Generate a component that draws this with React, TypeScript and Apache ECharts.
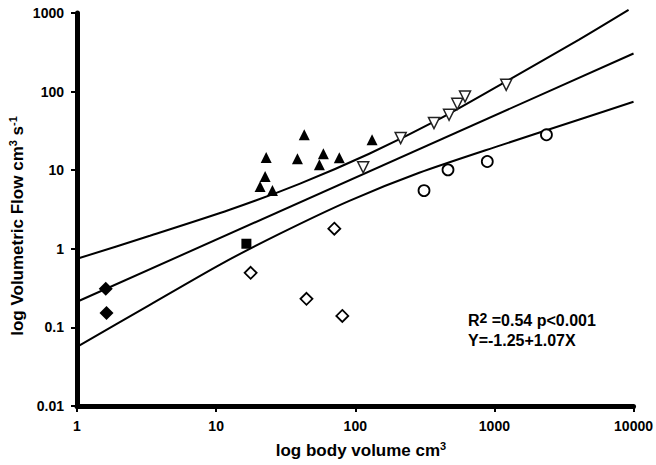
import React, { useEffect, useRef } from "react";
import * as echarts from "echarts";

// Tick labels
const xTickLabels = ["1", "10", "100", "1000", "10000"];
const yTickLabels = ["0.01", "0.1", "1", "10", "100", "1000"];

// Data groups [body volume cm3, volumetric flow cm3/s]
const filledDiamonds = [
  [1.61, 0.31],
  [1.63, 0.153],
];
const filledSquares = [[16.5, 1.16]];
const openDiamonds = [
  [17.7, 0.495],
  [44.6, 0.231],
  [70.7, 1.8],
  [80.7, 0.14],
];
const filledTriangles = [
  [20.7, 6.2],
  [22.5, 8.3],
  [22.9, 14.5],
  [25.4, 5.5],
  [38.4, 14.0],
  [43, 28.2],
  [55.2, 11.7],
  [59, 16.2],
  [76.8, 14.4],
  [132, 24.4],
];
const openDownTriangles = [
  [114, 10.9],
  [212, 25.6],
  [368, 39.8],
  [472, 50.7],
  [541, 70],
  [615, 86.6],
  [1216, 122],
];
const openCircles = [
  [312, 5.5],
  [464, 10.1],
  [889, 12.9],
  [2366, 28.2],
];

// Regression line and confidence band
const fitLine = [
  [1, 0.212],
  [10000, 305],
];
const upperBand = [
  [1, 0.746],
  [3.34, 1.463],
  [12.5, 3.135],
  [39.7, 6.71],
  [126, 16.2],
  [400, 44.5],
  [1271, 141],
  [4034, 456],
  [9210, 1098],
];
const lowerBand = [
  [1, 0.0566],
  [3.34, 0.194],
  [10.6, 0.626],
  [28.5, 1.55],
  [90.6, 4.08],
  [288, 9.27],
  [1077, 20.4],
  [4034, 43.8],
  [10000, 74.2],
];

const FONT = "Liberation Sans, Arial, sans-serif";

function findLabel(labels: string[], v: number) {
  const hit = labels.find(
    (l) => Math.abs(Math.log10(Number(l)) - Math.log10(v)) < 1e-6
  );
  return hit ?? "";
}

export default function App() {
  const ref = useRef<HTMLDivElement>(null);
  useEffect(() => {
    if (!ref.current) return;
    const chart = echarts.init(ref.current, undefined, { renderer: "svg" });
    const lineSeries = (data: number[][]) => ({
      type: "line",
      data,
      symbol: "none",
      smooth: 0.25,
      clip: false,
      lineStyle: { color: "#000", width: 2 },
      silent: true,
      z: 2,
    });
    const scatter = (
      data: number[][],
      symbol: string,
      size: number,
      filled: boolean,
      extra: any = {}
    ) => ({
      type: "scatter",
      data,
      symbol,
      symbolSize: size,
      itemStyle: filled
        ? { color: "#000", borderColor: "#000", borderWidth: 0, opacity: 1 }
        : { color: "#fff", borderColor: "#000", borderWidth: 1.8, opacity: 1 },
      z: 3,
      ...extra,
    });
    chart.setOption({
      animation: false,
      backgroundColor: "#fff",
      grid: { left: 77, right: 21, top: 13, bottom: 59, containLabel: false },
      xAxis: {
        type: "log",
        logBase: 10,
        min: 1,
        max: 10000,
        splitLine: { show: false },
        minorTick: { show: false },
        axisLine: { show: true, lineStyle: { color: "#000", width: 5 } },
        axisTick: { show: true, length: 6, lineStyle: { color: "#000", width: 2 } },
        axisLabel: {
          color: "#000",
          fontFamily: FONT,
          fontWeight: "bold",
          fontSize: 14,
          margin: 13,
          formatter: (v: number) => findLabel(xTickLabels, v),
        },
      },
      yAxis: {
        type: "log",
        logBase: 10,
        min: 0.01,
        max: 1000,
        splitLine: { show: false },
        minorTick: { show: false },
        axisLine: { show: true, lineStyle: { color: "#000", width: 5 } },
        axisTick: { show: true, length: 6, lineStyle: { color: "#000", width: 2 } },
        axisLabel: {
          color: "#000",
          fontFamily: FONT,
          fontWeight: "bold",
          fontSize: 14,
          margin: 13,
          formatter: (v: number) => findLabel(yTickLabels, v),
        },
      },
      series: [
        lineSeries(upperBand),
        { ...lineSeries(fitLine), smooth: false },
        lineSeries(lowerBand),
        scatter(filledDiamonds, "diamond", 14, true),
        scatter(filledSquares, "rect", 10, true),
        scatter(openDiamonds, "diamond", 12, false),
        scatter(filledTriangles, "triangle", 11, true),
        scatter(openDownTriangles, "triangle", 11, false, {
          symbolRotate: 180,
          itemStyle: { color: "#fff", borderColor: "#222", borderWidth: 1.5, opacity: 1 },
        }),
        scatter(openCircles, "circle", 11, false),
      ],
      graphic: [
        {
          type: "text",
          x: 17,
          y: 226,
          rotation: Math.PI / 2,
          style: {
            text: "log Volumetric Flow cm{sup|3} s{sup|-1}",
            fontFamily: FONT,
            fontWeight: "bold",
            fontSize: 17,
            fill: "#000",
            align: "center",
            verticalAlign: "middle",
            lineHeight: 19,
            rich: {
              sup: {
                fontFamily: FONT,
                fontWeight: "bold",
                fontSize: 11,
                verticalAlign: "top",
                fill: "#000",
              },
            },
          },
        },
        {
          type: "text",
          x: 361,
          y: 450,
          style: {
            text: "log body volume cm{sup|3}",
            fontFamily: FONT,
            fontWeight: "bold",
            fontSize: 17,
            fill: "#000",
            align: "center",
            verticalAlign: "middle",
            lineHeight: 19,
            rich: {
              sup: {
                fontFamily: FONT,
                fontWeight: "bold",
                fontSize: 11,
                verticalAlign: "top",
                fill: "#000",
              },
            },
          },
        },
        {
          type: "text",
          x: 468,
          y: 320,
          style: {
            text: "R{sup|2} =0.54 p<0.001",
            fontFamily: FONT,
            fontWeight: "bold",
            fontSize: 16,
            fill: "#000",
            align: "left",
            verticalAlign: "middle",
            lineHeight: 19,
            rich: {
              sup: {
                fontFamily: FONT,
                fontWeight: "bold",
                fontSize: 14,
                verticalAlign: "top",
                fill: "#000",
              },
            },
          },
        },
        {
          type: "text",
          x: 468,
          y: 340,
          style: {
            text: "Y=-1.25+1.07X",
            fontFamily: FONT,
            fontWeight: "bold",
            fontSize: 16,
            fill: "#000",
            align: "left",
            verticalAlign: "middle",
          },
        },
      ],
    });
    return () => chart.dispose();
  }, []);
  return (
    <div
      ref={ref}
      style={{ position: "fixed", left: 0, top: 0, width: 656, height: 465 }}
    />
  );
}
